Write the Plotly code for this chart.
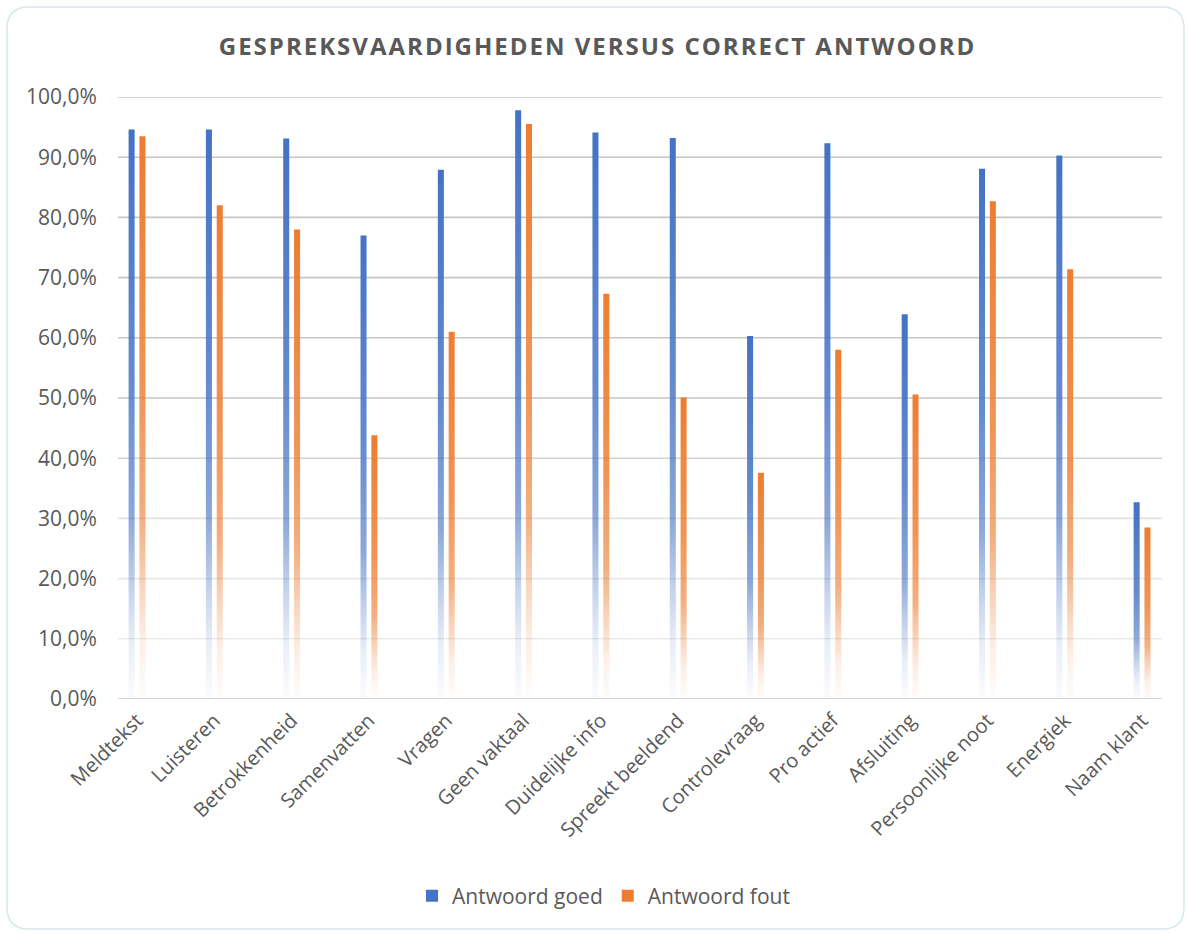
import plotly.graph_objects as go

categories = ["Meldtekst", "Luisteren", "Betrokkenheid", "Samenvatten", "Vragen",
              "Geen vaktaal", "Duidelijke info", "Spreekt beeldend", "Controlevraag",
              "Pro actief", "Afsluiting", "Persoonlijke noot", "Energiek", "Naam klant"]
antwoord_goed = [94.6, 94.6, 93.1, 77.0, 87.9, 97.8, 94.1, 93.2, 60.3, 92.3, 63.9, 88.1, 90.3, 32.7]
antwoord_fout = [93.5, 82.0, 78.0, 43.8, 61.0, 95.5, 67.3, 50.1, 37.6, 58.0, 50.6, 82.7, 71.4, 28.5]
y_ticks = [0, 10, 20, 30, 40, 50, 60, 70, 80, 90, 100]
series_names = ["Antwoord goed", "Antwoord fout"]

# layout geometry (pixels)
W, H = 1188, 934
L, R, T, B = 118, 1162, 97, 699
X_MIN, X_MAX = -0.246, 13.258
GAP, BW = 0.031, 0.078

def fx(px):
    return (px - L) / (R - L)

def fy(py):
    return 1 - (py - T) / (B - T)

colors = [(68, 114, 196), (237, 125, 49)]

fig = go.Figure()

for s, (name, vals, rgb) in enumerate(zip(series_names, [antwoord_goed, antwoord_fout], colors)):
    r, g, b = rgb
    side = -1 if s == 0 else 1
    cs = [[0.0, f"rgba({r},{g},{b},0.02)"],
          [0.1, f"rgba({r},{g},{b},0.12)"],
          [0.2, f"rgba({r},{g},{b},0.33)"],
          [0.32, f"rgba({r},{g},{b},0.62)"],
          [0.55, f"rgba({r},{g},{b},0.82)"],
          [1.0, f"rgba({r},{g},{b},1)"]]
    for i, v in enumerate(vals):
        xa, xb = sorted([i + side * GAP, i + side * (GAP + BW)])
        fig.add_trace(go.Scatter(
            x=[xa, xb, xb, xa, xa], y=[0, 0, v, v, 0],
            fill="toself", mode="lines", line=dict(width=0),
            fillgradient=dict(type="vertical", colorscale=cs, start=0, stop=v),
            showlegend=False, hoverinfo="skip"))
    fig.add_trace(go.Scatter(
        x=[None], y=[None], mode="markers", name=name,
        marker=dict(symbol="square", size=12, color=f"rgb({r},{g},{b})")))

# gridlines (fade toward the bottom)
def grid_color(v):
    if v >= 50:
        return "#c6c6c6"
    return {40: "#d4d4d4", 30: "#e2e2e2", 20: "#e8e8e8", 10: "#ebebeb"}.get(v, "#d4d4d4")

shapes = []
for v in y_ticks:
    shapes.append(dict(type="line", xref="paper", yref="y", x0=0, x1=1, y0=v, y1=v,
                       line=dict(color=grid_color(v), width=2 if v == 0 else 1.6),
                       layer="below"))

# rounded chart border
bl, bt, br, bb, rad = 7, 7, 1184, 929, 22
path = (f"M {fx(bl+rad)} {fy(bt)} L {fx(br-rad)} {fy(bt)} Q {fx(br)} {fy(bt)} {fx(br)} {fy(bt+rad)} "
        f"L {fx(br)} {fy(bb-rad)} Q {fx(br)} {fy(bb)} {fx(br-rad)} {fy(bb)} "
        f"L {fx(bl+rad)} {fy(bb)} Q {fx(bl)} {fy(bb)} {fx(bl)} {fy(bb-rad)} "
        f"L {fx(bl)} {fy(bt+rad)} Q {fx(bl)} {fy(bt)} {fx(bl+rad)} {fy(bt)} Z")
shapes.append(dict(type="path", xref="paper", yref="paper", path=path,
                   line=dict(color="#d6e7eb", width=1.5), layer="below"))

fig.update_layout(
    width=W, height=H,
    margin=dict(l=L, r=W - R, t=T, b=H - B),
    paper_bgcolor="white", plot_bgcolor="rgba(0,0,0,0)",
    font=dict(family="Open Sans", color="#595959"),
    title=dict(text='<span style="letter-spacing:2px">GESPREKSVAARDIGHEDEN VERSUS CORRECT ANTWOORD</span>',
               x=0.503, xanchor="center", y=1 - 47 / H, yanchor="middle",
               font=dict(family="Open Sans", size=24, color="#595959", weight="bold")),
    xaxis=dict(range=[X_MIN, X_MAX], tickvals=list(range(len(categories))), ticktext=categories,
               tickangle=-45, showgrid=False, zeroline=False, showline=False,
               ticks="outside", ticklen=1, tickcolor="rgba(0,0,0,0)",
               tickfont=dict(family="Open Sans", size=20, color="#595959")),
    yaxis=dict(range=[0, 100], tickvals=y_ticks,
               ticktext=[f"{v:.1f}%".replace(".", ",") for v in y_ticks],
               showgrid=False, zeroline=False, showline=False,
               ticks="outside", ticklen=16, tickcolor="rgba(0,0,0,0)",
               tickfont=dict(family="Open Sans", size=21, color="#595959")),
    legend=dict(orientation="h", xref="container", yref="container", x=0.508, xanchor="center",
                y=1 - 896 / H, yanchor="middle", font=dict(family="Open Sans", size=21, color="#595959"),
                itemwidth=30),
    shapes=shapes,
    showlegend=True,
)

fig.write_html("out.html")
